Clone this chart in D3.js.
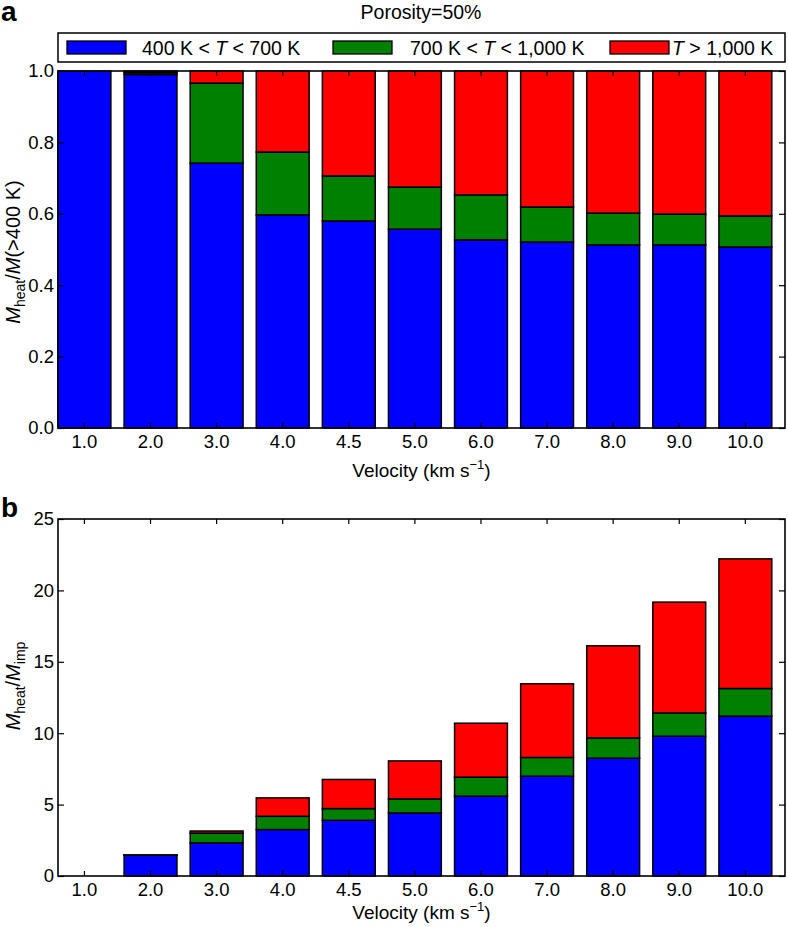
<!DOCTYPE html>
<html>
<head>
<meta charset="utf-8">
<script src="https://cdn.jsdelivr.net/npm/d3@7"></script>
<style>
  body { margin: 0; background: #fff; }
  text { font-family: "Liberation Sans", Arial, sans-serif; }
</style>
</head>
<body>
<svg id="chart"></svg>
<script>
// categories (impact velocity, km/s)
const velocities = ["1.0", "2.0", "3.0", "4.0", "4.5", "5.0", "6.0", "7.0", "8.0", "9.0", "10.0"];

// panel a: fraction of heated mass
const fracLow = [1.0, 0.99, 0.742, 0.597, 0.58, 0.557, 0.527, 0.521, 0.513, 0.513, 0.507];
const fracMid = [0, 0.005, 0.224, 0.176, 0.126, 0.118, 0.126, 0.098, 0.089, 0.086, 0.087];
const fracHigh = [0, 0.005, 0.034, 0.227, 0.294, 0.325, 0.347, 0.381, 0.398, 0.401, 0.406];

// panel b: heated mass / impactor mass
const massLow = [0, 1.45, 2.32, 3.25, 3.90, 4.42, 5.59, 6.99, 8.25, 9.79, 11.19];
const massMid = [0, 0.01, 0.68, 0.93, 0.82, 0.98, 1.33, 1.31, 1.42, 1.63, 1.94];
const massHigh = [0, 0.01, 0.15, 1.29, 2.04, 2.66, 3.78, 5.16, 6.45, 7.76, 9.08];

const ticksA = [0, 0.2, 0.4, 0.6, 0.8, 1.0];
const ticksB = [0, 5, 10, 15, 20, 25];

const colors = ["#0000ff", "#008000", "#ff0000"];

const width = 788;
const height = 927;
const svg = d3.select("#chart").attr("width", width).attr("height", height);

const left = 58, right = 785;
const fontSize = 18.5;

const x = d3.scaleBand()
    .domain(velocities)
    .range([left, right])
    .paddingInner(0.2)
    .paddingOuter(0.1)
    .align(0);

function panel(top, bottom, yMax, ticks, fmt, series, xLabelGap) {
    const y = d3.scaleLinear().domain([0, yMax]).range([bottom, top]);
    const g = svg.append("g");

    const rows = velocities.map((v, i) => ({ v, a: series[0][i], b: series[1][i], c: series[2][i] }));
    const stack = d3.stack().keys(["a", "b", "c"])(rows);

    stack.forEach((layer, k) => {
        g.append("g")
            .selectAll("rect")
            .data(layer)
            .join("rect")
            .attr("x", d => x(d.data.v))
            .attr("width", x.bandwidth())
            .attr("y", d => y(d[1]))
            .attr("height", d => y(d[0]) - y(d[1]))
            .attr("fill", colors[k])
            .attr("stroke", "#000")
            .attr("stroke-width", 1.5);
    });

    // x ticks bottom & top (inward)
    g.append("g")
        .attr("transform", `translate(0,${bottom})`)
        .call(d3.axisBottom(x).tickSize(-5).tickPadding(7))
        .call(s => s.select(".domain").remove());
    g.append("g")
        .attr("transform", `translate(0,${top})`)
        .call(d3.axisTop(x).tickSize(-5).tickFormat(""))
        .call(s => s.select(".domain").remove());

    // y ticks left & right (inward)
    g.append("g")
        .attr("transform", `translate(${left},0)`)
        .call(d3.axisLeft(y).tickValues(ticks).tickFormat(fmt).tickSize(-6).tickPadding(4))
        .call(s => s.select(".domain").remove());
    g.append("g")
        .attr("transform", `translate(${right},0)`)
        .call(d3.axisRight(y).tickValues(ticks).tickFormat("").tickSize(-6))
        .call(s => s.select(".domain").remove());

    g.selectAll(".tick line").attr("stroke", "#000").attr("stroke-width", 1.2);
    g.selectAll(".tick text").attr("font-size", fontSize).attr("fill", "#000")
        .style("font-family", "'Liberation Sans', Arial, sans-serif");

    g.append("rect")
        .attr("x", left).attr("y", top)
        .attr("width", right - left).attr("height", bottom - top)
        .attr("fill", "none").attr("stroke", "#000").attr("stroke-width", 1.6);

    // x label
    const xl = g.append("text")
        .attr("x", (left + right) / 2).attr("y", bottom + xLabelGap)
        .attr("text-anchor", "middle").attr("font-size", 19);
    xl.append("tspan").text("Velocity (km s");
    xl.append("tspan").attr("dy", -8).attr("font-size", 13).text("\u22121");
    xl.append("tspan").attr("dy", 8).text(")");

    return g;
}

// panel a
panel(71, 428, 1.0, ticksA, d3.format(".1f"), [fracLow, fracMid, fracHigh], 49);
// panel b
panel(519, 876, 25, ticksB, d3.format("d"), [massLow, massMid, massHigh], 43);

// y labels
function yLabel(cx, cy, parts) {
    const t = svg.append("text")
        .attr("transform", `translate(${cx},${cy}) rotate(-90)`)
        .attr("text-anchor", "middle").attr("font-size", 20);
    parts.forEach(p => {
        const s = t.append("tspan").text(p.t);
        if (p.i) s.attr("font-style", "italic");
        if (p.sub) s.attr("font-size", 14).attr("dy", 5);
        if (p.up) s.attr("dy", -5);
    });
}
yLabel(20, 252, [
    { t: "M", i: true }, { t: "heat", sub: true }, { t: "/", up: true },
    { t: "M", i: true }, { t: "(>400 K)" }
]);
yLabel(20, 686, [
    { t: "M", i: true }, { t: "heat", sub: true }, { t: "/", up: true },
    { t: "M", i: true }, { t: "imp", sub: true }
]);

// title
svg.append("text").attr("x", 421).attr("y", 19)
    .attr("text-anchor", "middle").attr("font-size", 19.5).text("Porosity=50%");

// panel letters
svg.append("text").attr("x", 1).attr("y", 21)
    .attr("font-size", 28).attr("font-weight", "bold").text("a");
svg.append("text").attr("x", 1).attr("y", 517)
    .attr("font-size", 28).attr("font-weight", "bold").text("b");

// legend
const lg = svg.append("g");
lg.append("rect").attr("x", left).attr("y", 33).attr("width", right - left).attr("height", 29)
    .attr("fill", "#fff").attr("stroke", "#000").attr("stroke-width", 1.5);
const legendItems = [
    { px: 67, tx: 142, parts: [{ t: "400 K < " }, { t: "T", i: true }, { t: " < 700 K" }] },
    { px: 333, tx: 410, parts: [{ t: "700 K < " }, { t: "T", i: true }, { t: " < 1,000 K" }] },
    { px: 610, tx: 672, parts: [{ t: "T", i: true }, { t: " > 1,000 K" }] }
];
legendItems.forEach((d, k) => {
    lg.append("rect").attr("x", d.px).attr("y", 41).attr("width", 59).attr("height", 13)
        .attr("fill", colors[k]).attr("stroke", "#000").attr("stroke-width", 1.3);
    const t = lg.append("text").attr("x", d.tx).attr("y", 55).attr("font-size", 19.5);
    d.parts.forEach(p => {
        const s = t.append("tspan").text(p.t);
        if (p.i) s.attr("font-style", "italic");
    });
});
</script>
</body>
</html>
